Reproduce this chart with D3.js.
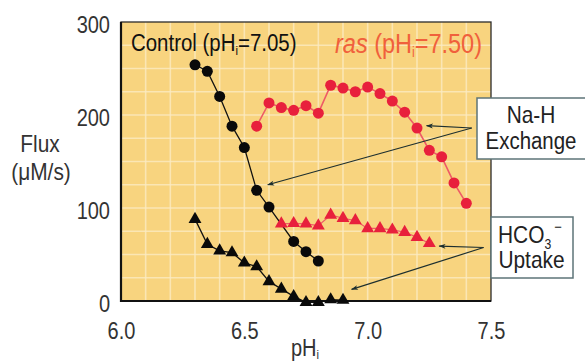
<!DOCTYPE html>
<html><head><meta charset="utf-8">
<script src="https://cdn.jsdelivr.net/npm/d3@7/dist/d3.min.js"></script>
<style>
html,body{margin:0;padding:0;background:#fff;}
svg{display:block;font-family:"Liberation Sans",Arial,sans-serif;}
</style></head><body>
<svg id="chart" width="585" height="362"></svg>
<script>
// ---- data ----
const ctrlNaH_pH   = [6.30,6.35,6.40,6.45,6.50,6.55,6.60,6.70,6.75,6.80];
const ctrlNaH_flux = [254,247,220,188,165,119,101,64,53,43];
const ctrlHCO3_pH   = [6.30,6.35,6.40,6.45,6.50,6.55,6.60,6.65,6.70,6.75,6.80,6.85,6.90];
const ctrlHCO3_flux = [88,61,54,52,41,37,21,13,5,-1.5,-1.5,1.5,1];
const rasNaH_pH   = [6.55,6.60,6.65,6.70,6.75,6.80,6.85,6.90,6.95,7.00,7.05,7.10,7.15,7.20,7.25,7.30,7.35,7.40];
const rasNaH_flux = [188,213,208,205,210,202,232,229,225,230,223,215,203,186,162,155,127,105];
const rasHCO3_pH   = [6.65,6.70,6.75,6.80,6.85,6.90,6.95,7.00,7.05,7.10,7.15,7.20,7.25];
const rasHCO3_flux = [83,83.5,83,81,92.5,89,86.5,78,78,76.5,74,68.5,62];
const xTicks = [6.0,6.5,7.0,7.5];
const yTicks = [0,100,200,300];
// annotation arrows: [tail pH, tail flux, head pH, head flux]
const naHArrows   = [[7.422,186,7.239,188.5],[7.422,186,6.595,125]];
const hco3Arrows  = [[7.47,57.5,7.29,59],[7.47,57.5,6.935,12.5]];

// ---- layout ----
const svg = d3.select("#chart");
const L=121, R=491, T=22, B=301;
const x = d3.scaleLinear().domain([6.0,7.5]).range([L,R]);
const y = d3.scaleLinear().domain([0,300]).range([B,T]);
const SX = 0.87;

svg.append("defs").append("marker")
  .attr("id","ah").attr("viewBox","0 0 10 10").attr("refX",9).attr("refY",5)
  .attr("markerWidth",9).attr("markerHeight",7).attr("markerUnits","userSpaceOnUse")
  .attr("orient","auto")
  .append("path").attr("d","M0,1.5L10,5L0,8.5L2.5,5Z").attr("fill","#1d2f2f");

// plot background
svg.append("rect").attr("x",L).attr("y",T).attr("width",R-L).attr("height",B-T)
  .attr("fill","#f8d47f");

// grid
const gx = d3.range(6.1,7.45,0.1);
const gy = d3.range(25,300,25);
svg.append("g").selectAll("line").data(gx).join("line")
  .attr("x1",d=>x(d)).attr("x2",d=>x(d)).attr("y1",T).attr("y2",B)
  .attr("stroke","#fcebc2").attr("stroke-width",1.6).attr("opacity",0.8);
svg.append("g").selectAll("line").data(gy).join("line")
  .attr("y1",d=>y(d)).attr("y2",d=>y(d)).attr("x1",L).attr("x2",R)
  .attr("stroke","#fcebc2").attr("stroke-width",1.6).attr("opacity",0.8);

// frame
svg.append("rect").attr("x",L).attr("y",T).attr("width",R-L).attr("height",B-T)
  .attr("fill","none").attr("stroke","#2b2b2b").attr("stroke-width",1.3);
svg.append("path").attr("d",`M${L},${T}V${B}H${R}`).attr("fill","none")
  .attr("stroke","#111").attr("stroke-width",2.2);

// axes
const ax = svg.append("g").attr("transform",`translate(0,${B})`)
  .call(d3.axisBottom(x).tickValues(xTicks).tickFormat(d3.format(".1f")).tickSize(0).tickPadding(0));
ax.select(".domain").remove();
ax.selectAll("text").attr("y",0).attr("dy",0)
  .attr("transform",`translate(0,37.5) scale(${SX},1)`)
  .attr("font-size",23).attr("fill","#333").attr("font-family","Liberation Sans, Arial, sans-serif")
  .attr("text-anchor","middle");
const ay = svg.append("g").attr("transform",`translate(110,0)`)
  .call(d3.axisLeft(y).tickValues(yTicks).tickSize(0).tickPadding(0));
ay.select(".domain").remove();
ay.selectAll("text").attr("x",0).attr("dy",0)
  .attr("transform",`translate(0,10.7) scale(${SX},1)`)
  .attr("font-size",23).attr("fill","#333").attr("font-family","Liberation Sans, Arial, sans-serif")
  .attr("text-anchor","end");

function txt(xp,yp,anchor,size,fill){
  return svg.append("text").attr("transform",`translate(${xp},${yp}) scale(${SX},1)`)
    .attr("text-anchor",anchor).attr("font-size",size).attr("fill",fill);
}
// axis titles
txt(40,152,"middle",24,"#333").text("Flux");
txt(41,180,"middle",24,"#333").text("(μM/s)");
const ph = txt(305,356,"middle",23,"#333");
ph.append("tspan").text("pH");
ph.append("tspan").attr("font-size",13).attr("dy",3).text("i");

// series
const line = d3.line().x(d=>x(d[0])).y(d=>y(d[1]));
const zip = (a,b)=>a.map((v,i)=>[v,b[i]]);
const cN = zip(ctrlNaH_pH,ctrlNaH_flux), cH = zip(ctrlHCO3_pH,ctrlHCO3_flux);
const rN = zip(rasNaH_pH,rasNaH_flux),  rH = zip(rasHCO3_pH,rasHCO3_flux);
const RED = "#e8203c", REDL = "#ee5a66";

svg.append("path").attr("d",line(rN)).attr("fill","none").attr("stroke",REDL).attr("stroke-width",1.6);
svg.append("path").attr("d",line(rH)).attr("fill","none").attr("stroke",REDL).attr("stroke-width",1.2);
svg.append("path").attr("d",line(cN)).attr("fill","none").attr("stroke","#111").attr("stroke-width",1.3);
svg.append("path").attr("d",line(cH)).attr("fill","none").attr("stroke","#111").attr("stroke-width",1.3);

const tri = d3.symbol().type(d3.symbolTriangle).size(72);
svg.append("g").selectAll("circle").data(rN).join("circle")
  .attr("cx",d=>x(d[0])).attr("cy",d=>y(d[1])).attr("r",5.5).attr("fill",RED);
svg.append("g").selectAll("circle").data(cN).join("circle")
  .attr("cx",d=>x(d[0])).attr("cy",d=>y(d[1])).attr("r",5.5).attr("fill","#0a0a0a");
svg.append("g").selectAll("path").data(rH).join("path")
  .attr("d",tri).attr("transform",d=>`translate(${x(d[0])},${y(d[1])})`).attr("fill",RED);
svg.append("g").selectAll("path").data(cH).join("path")
  .attr("d",tri).attr("transform",d=>`translate(${x(d[0])},${y(d[1])})`).attr("fill","#0a0a0a");

// series labels
const ct = txt(131,51,"start",23.5,"#111");
ct.append("tspan").text("Control (pH");
ct.append("tspan").attr("font-size",13).attr("dy",4).text("i");
ct.append("tspan").attr("dy",-4).text("=7.05)");
const rt = txt(335,53,"start",27,"#f0603c");
rt.append("tspan").attr("font-style","italic").text("ras");
rt.append("tspan").text(" (pH");
rt.append("tspan").attr("font-size",14).attr("dy",4).text("i");
rt.append("tspan").attr("dy",-4).text("=7.50)");

// arrows
svg.append("g").selectAll("line").data(naHArrows.concat(hco3Arrows)).join("line")
  .attr("x1",d=>x(d[0])).attr("y1",d=>y(d[1])).attr("x2",d=>x(d[2])).attr("y2",d=>y(d[3]))
  .attr("stroke","#1d2f2f").attr("stroke-width",1.2).attr("marker-end","url(#ah)");

// label boxes
svg.append("rect").attr("x",477).attr("y",98).attr("width",115).attr("height",61)
  .attr("fill","#fff").attr("stroke","#5d7478").attr("stroke-width",1.5);
svg.append("rect").attr("x",491).attr("y",217).attr("width",82).attr("height",61)
  .attr("fill","#fff").attr("stroke","#5d7478").attr("stroke-width",1.5);
txt(531,123,"middle",24,"#222").text("Na-H");
txt(531,149,"middle",23.5,"#222").text("Exchange");
const hc = txt(498,243,"start",24,"#222");
hc.append("tspan").text("HCO");
hc.append("tspan").attr("font-size",14).attr("dy",6).text("3");
txt(558,232,"middle",15,"#222").text("−");
txt(531.5,268,"middle",24,"#222").text("Uptake");
</script>
</body></html>
